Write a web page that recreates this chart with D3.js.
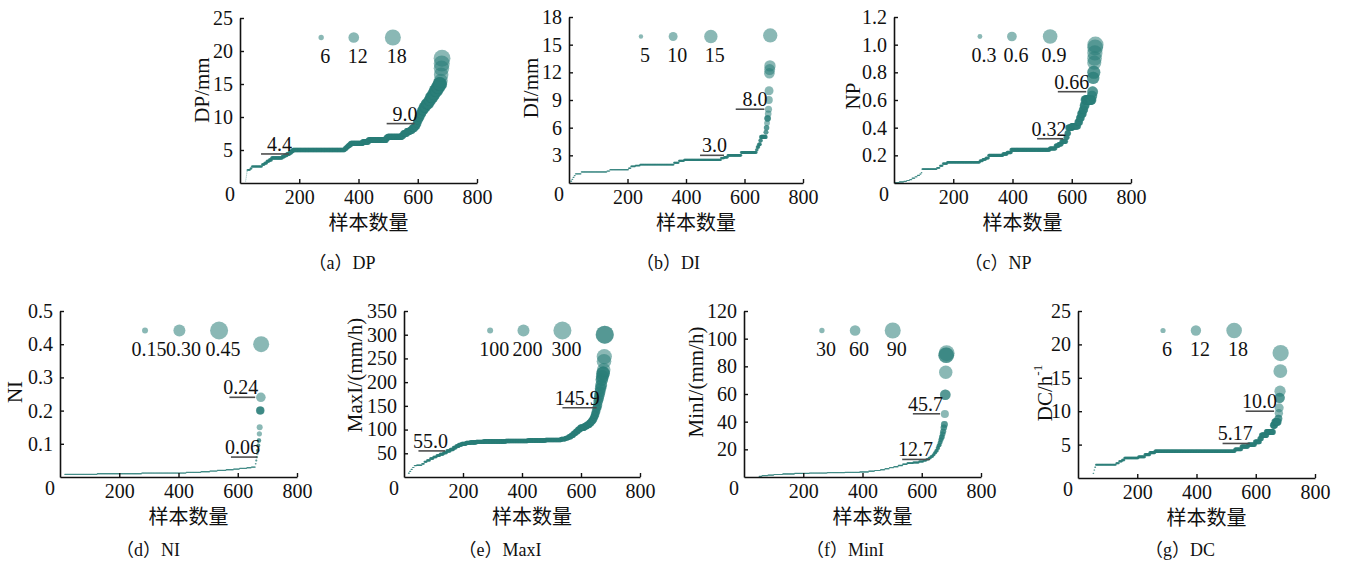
<!DOCTYPE html>
<html>
<head>
<meta charset="utf-8">
<script src="https://cdn.jsdelivr.net/npm/d3@7"></script>
<style>
  body { margin: 0; background: #fff; }
  svg { display: block; }
  text { font-family: "Liberation Serif", "Times New Roman", "Noto Sans CJK SC", serif; fill: #111; }
  .cjk { font-family: "Noto Sans CJK SC", sans-serif; }
</style>
</head>
<body>
<svg id="chart" width="1348" height="566"></svg>
<script>
// Shared axis content
const sampleTicks = [200, 400, 600, 800];
const sampleTitle = "样本数量";

// Sorted sample values per index, stored as [value, count] runs (ascending)
const dpRuns = [[0,18],[0.3,1],[0.6,1],[0.9,1],[1.2,1],[1.5,1],[1.8,1],[2.0,10],[2.2,5],[2.5,35],
  [2.8,8],[3.0,8],[3.3,8],[3.5,8],[3.8,36],[4.0,8],[4.2,8],[4.4,8],[4.6,6],[4.8,6],[5.0,175],
  [5.2,5],[5.4,5],[5.6,5],[5.8,5],[6.0,40],[6.2,20],[6.5,60],[6.8,5],[7.0,48],[7.2,5],[7.5,12],
  [7.8,10],[8.0,8],[8.3,8],[8.6,6],[9.0,4],[9.5,4],[10.0,5],[10.5,5],[11.0,6],[11.5,8],[12.0,10],
  [12.5,6],[13.0,8],[13.5,6],[14.0,8],[14.5,6],[15.0,6],[15.5,1],[16.4,1],[17.4,1],[18.1,1],
  [18.9,1]];

const diRuns = [[0,5],[0.2,4],[0.4,4],[0.6,4],[0.8,4],[1.0,20],[1.2,88],[1.3,10],[1.45,64],[1.6,8],
  [1.8,15],[1.9,16],[2.0,116],[2.2,17],[2.4,18],[2.5,126],[2.7,11],[2.8,12],[3.0,46],[3.3,52],
  [3.6,3],[3.9,5],[4.2,5],[4.6,3],[5.0,16],[5.5,2],[6.0,2],[6.5,1],[7.0,3],[7.5,1],[8.0,1],[9.0,1],
  [10.0,1],[11.9,1],[12.3,1],[12.7,1],[16.0,1]];

const npRuns = [[0,2],[0.003,15],[0.008,15],[0.012,10],[0.018,10],[0.025,8],[0.035,10],[0.045,8],
  [0.055,8],[0.065,5],[0.075,3],[0.1,50],[0.11,10],[0.125,10],[0.14,15],[0.15,110],[0.16,10],
  [0.17,10],[0.18,10],[0.2,48],[0.21,14],[0.22,14],[0.24,130],[0.25,20],[0.27,10],[0.28,10],
  [0.3,15],[0.33,4],[0.36,4],[0.4,12],[0.41,20],[0.44,6],[0.47,5],[0.5,6],[0.53,4],[0.56,4],
  [0.6,22],[0.63,2],[0.66,2],[0.76,2],[0.8,2],[0.87,1],[0.9,1],[0.94,1],[0.98,1],[1.0,1]];

const niRuns = [[0,15],[0.008,110],[0.010,150],[0.012,150],[0.014,50],[0.016,30],[0.018,25],
  [0.020,30],[0.022,25],[0.024,20],[0.026,25],[0.028,15],[0.030,14],[0.04,2],[0.05,2],[0.06,2],
  [0.07,1],[0.08,2],[0.095,2],[0.11,2],[0.13,1],[0.15,1],[0.2,3],[0.24,1],[0.4,1]];

const maxiRuns = [[0,14],[8,4],[12,5],[16,5],[20,6],[24,8],[25,18],[28,8],[32,9],[35,11],[39,11],
  [42,11],[45,11],[48,12],[51,11],[55,12],[58,11],[62,9],[65,9],[68,10],[70,15],[72,14],[73,20],
  [74,25],[75,75],[76,75],[77,60],[78,53],[80,15],[82,10],[85,9],[88,8],[92,8],[96,7],[100,8],
  [104,14],[107,8],[110,9],[114,6],[118,5],[122,4],[127,3],[132,3],[138,3],[146,3],[152,2],
  [160,2],[166,2],[173,2],[180,2],[187,2],[194,2],[205,2],[212,2],[219,3],[226,1],[244,1],
  [254,1],[300,2]];

const miniRuns = [[0,50],[0.5,10],[1.0,20],[1.4,20],[1.8,30],[2.2,40],[2.6,50],[2.9,60],[3.2,60],
  [3.4,50],[3.7,30],[4.2,20],[4.7,20],[5.3,15],[6.0,15],[6.8,15],[7.5,15],[8.3,15],[9.2,15],
  [10.0,20],[10.5,20],[11.2,15],[12.0,10],[12.8,8],[13.8,7],[14.8,7],[16,5],[17.5,5],[19,5],
  [21,4],[23,4],[25,3],[27,3],[29,3],[31,2],[33,2],[35.7,2],[38,2],[45.5,1],[59.5,2],[75.7,1],
  [88,2],[89.5,1]];

const dcRuns = [[0,50],[0.7,3],[1.2,3],[1.6,3],[2.0,69],[2.2,10],[2.5,10],[2.7,8],[3.0,47],
  [3.15,22],[3.5,17],[3.8,17],[4.0,270],[4.3,22],[4.7,23],[5.0,23],[5.4,16],[5.9,6],[6.4,17],
  [6.9,22],[7.9,6],[8.4,11],[8.9,2],[9.7,1],[10.5,1],[12,2],[13,1],[16,1],[18.7,1]];

// Reference levels: [value, from sample, to sample, label]
const dpLevels = [[4.4, 71, 165, "4.4"], [9.0, 495, 589, "9.0"]];
const diLevels = [[3.0, 448, 530, "3.0"], [8.0, 570, 668, "8.0"]];
const npLevels = [[0.32, 483, 572, "0.32"], [0.66, 553, 649, "0.66"]];
const niLevels = [[0.24, 572, 659, "0.24"], [0.06, 577, 665, "0.06"]];
const maxiLevels = [[55.0, 49, 139, "55.0"], [145.9, 537, 653, "145.9"]];
const miniLevels = [[12.7, 534, 628, "12.7"], [45.7, 570, 662, "45.7"]];
const dcLevels = [[5.17, 488, 580, "5.17"], [10.0, 566, 662, "10.0"]];

// Size legend values and their printed labels
const dpSizes = [6, 12, 18];
const diSizes = [5, 10, 15];
const npSizes = [0.3, 0.6, 0.9];
const niSizes = [0.15, 0.30, 0.45];
const maxiSizes = [100, 200, 300];
const miniSizes = [30, 60, 90];
const dcSizes = [6, 12, 18];
const niSizeLabels = ["0.15", "0.30", "0.45"];

// Value-axis tick labels
const dpTicks = ["5", "10", "15", "20", "25"];
const diTicks = ["3", "6", "9", "12", "15", "18"];
const npTicks = ["0.2", "0.4", "0.6", "0.8", "1.0", "1.2"];
const niTicks = ["0.1", "0.2", "0.3", "0.4", "0.5"];
const maxiTicks = ["50", "100", "150", "200", "250", "300", "350"];
const miniTicks = ["20", "40", "60", "80", "100", "120"];
const dcTicks = ["5", "10", "15", "20", "25"];

// Panel names and captions
const panelKeys = ["a", "b", "c", "d", "e", "f", "g"];
const panelNames = ["DP", "DI", "NP", "NI", "MaxI", "MinI", "DC"];
const axisTitles = ["DP/mm", "DI/mm", "NP", "NI", "MaxI/(mm/h)", "MinI/(mm/h)", "DC/h"];

const panels = [
  { runs: dpRuns, levels: dpLevels, sizes: dpSizes, ticks: dpTicks, yMax: 25,
    left: 240, top: 18, bottom: 183, width: 237, rMax: 8, legendAt: [274, 384, 516],
    titleDx: -38, titleY: 90, capX: 342, capY: 263 },
  { runs: diRuns, levels: diLevels, sizes: diSizes, ticks: diTicks, yMax: 18,
    left: 569, top: 17, bottom: 183, width: 234, rMax: 6.7, legendAt: [246, 356, 485],
    titleDx: -38, titleY: 88, capX: 668, capY: 263 },
  { runs: npRuns, levels: npLevels, sizes: npSizes, ticks: npTicks, yMax: 1.2,
    left: 894, top: 17, bottom: 183, width: 237, rMax: 7.3, legendAt: [290, 398, 527],
    titleDx: -41, titleY: 96, capX: 998, capY: 263 },
  { runs: niRuns, levels: niLevels, sizes: niSizes, sizeLabels: niSizeLabels, ticks: niTicks, yMax: 0.5,
    left: 60, top: 311, bottom: 477, width: 237, rMax: 9, legendAt: [287, 403, 537],
    titleDx: -45, titleY: 392, capX: 148, capY: 550 },
  { runs: maxiRuns, levels: maxiLevels, sizes: maxiSizes, ticks: maxiTicks, yMax: 350,
    left: 404, top: 311, bottom: 477, width: 236, rMax: 9, legendAt: [292, 405, 537],
    titleDx: -49, titleY: 375, capX: 500, capY: 550 },
  { runs: miniRuns, levels: miniLevels, sizes: miniSizes, ticks: miniTicks, yMax: 120,
    left: 744, top: 311, bottom: 477, width: 237, rMax: 8, legendAt: [263, 375, 502],
    titleDx: -48, titleY: 382, capX: 845, capY: 550 },
  { runs: dcRuns, levels: dcLevels, sizes: dcSizes, ticks: dcTicks, yMax: 25,
    left: 1078, top: 311, bottom: 478, width: 237, rMax: 7.8, legendAt: [287, 398, 527],
    titleDx: -33, titleY: 393, capX: 1180, capY: 550, sup: "-1" }
];

const teal = "#2a7d78";
const svg = d3.select("#chart");

function expand(runs) {
  const out = [];
  runs.forEach(([v, n]) => { for (let k = 0; k < n; k++) out.push(v); });
  return out;
}

panels.forEach((p, pi) => {
  const g = svg.append("g");
  const x = d3.scaleLinear().domain([0, 800]).range([p.left, p.left + p.width]);
  const y = d3.scaleLinear().domain([0, p.yMax]).range([p.bottom, p.top]);
  const r = d3.scaleLinear().domain([0, p.sizes[2]]).range([0, p.rMax]);

  // sorted samples as bubbles sized by value
  const pts = expand(p.runs).map((v, i) => ({ v, i: i + 1 })).filter(d => d.v > 0);
  g.append("g").selectAll("circle").data(pts).join("circle")
    .attr("cx", d => x(d.i))
    .attr("cy", d => y(d.v))
    .attr("r", d => Math.max(0.6, r(d.v)))
    .attr("fill", teal)
    .attr("fill-opacity", 0.55);

  // axes with inward ticks
  const tickVals = p.ticks.map(Number);
  const yAxis = d3.axisLeft(y).tickValues(tickVals).tickFormat((d, k) => p.ticks[k])
    .tickSizeInner(-4).tickSizeOuter(0).tickPadding(7);
  const xAxis = d3.axisBottom(x).tickValues(sampleTicks).tickFormat(d3.format("d"))
    .tickSizeInner(-4).tickSizeOuter(0).tickPadding(7);

  const ya = g.append("g").attr("transform", `translate(${p.left},0)`).call(yAxis);
  const xa = g.append("g").attr("transform", `translate(0,${p.bottom})`).call(xAxis);
  [ya, xa].forEach(a => {
    a.attr("font-family", null).attr("font-size", null);
    a.select(".domain").attr("stroke", "#111").attr("stroke-width", 1.6);
    a.selectAll(".tick line").attr("stroke", "#111").attr("stroke-width", 1.4);
    a.selectAll(".tick text").style("font-size", "20px").attr("fill", "#111");
  });

  // shared origin label
  g.append("text").attr("x", p.left - 10).attr("y", p.bottom + 18)
    .attr("text-anchor", "middle").style("font-size", "20px").text("0");

  // axis titles
  g.append("text").attr("class", "cjk")
    .attr("x", p.left + p.width / 2 + 10).attr("y", p.bottom + 38)
    .attr("text-anchor", "middle").attr("dominant-baseline", "central")
    .style("font-size", "20px").text(sampleTitle);

  const yt = g.append("text")
    .attr("transform", `translate(${p.left + p.titleDx},${p.titleY}) rotate(-90)`)
    .attr("text-anchor", "middle").attr("dominant-baseline", "central")
    .style("font-size", "21px").text(axisTitles[pi]);
  if (p.sup) {
    yt.append("tspan").attr("baseline-shift", "super").style("font-size", "13px").text(p.sup);
  }

  // reference levels
  p.levels.forEach(([v, from, to, label]) => {
    g.append("line")
      .attr("x1", x(from)).attr("x2", x(to)).attr("y1", y(v)).attr("y2", y(v))
      .attr("stroke", "#4d4d4d").attr("stroke-width", 1.6);
    g.append("text")
      .attr("x", x(to) + 3).attr("y", y(v) - 3)
      .attr("text-anchor", "end").style("font-size", "20px").text(label);
  });

  // size legend
  const lg = g.append("g");
  p.sizes.forEach((s, k) => {
    const cx = x(p.legendAt[k]);
    lg.append("circle").attr("cx", cx).attr("cy", p.top + 19.5).attr("r", r(s))
      .attr("fill", teal).attr("fill-opacity", 0.55);
    lg.append("text").attr("x", cx + 4).attr("y", p.top + 45)
      .attr("text-anchor", "middle").style("font-size", "20px")
      .text(p.sizeLabels ? p.sizeLabels[k] : String(s));
  });

  // caption
  g.append("text").attr("x", p.capX).attr("y", p.capY)
    .attr("text-anchor", "middle").attr("dominant-baseline", "central")
    .style("font-size", "18px").text(`（${panelKeys[pi]}）${panelNames[pi]}`);
});
</script>
</body>
</html>
